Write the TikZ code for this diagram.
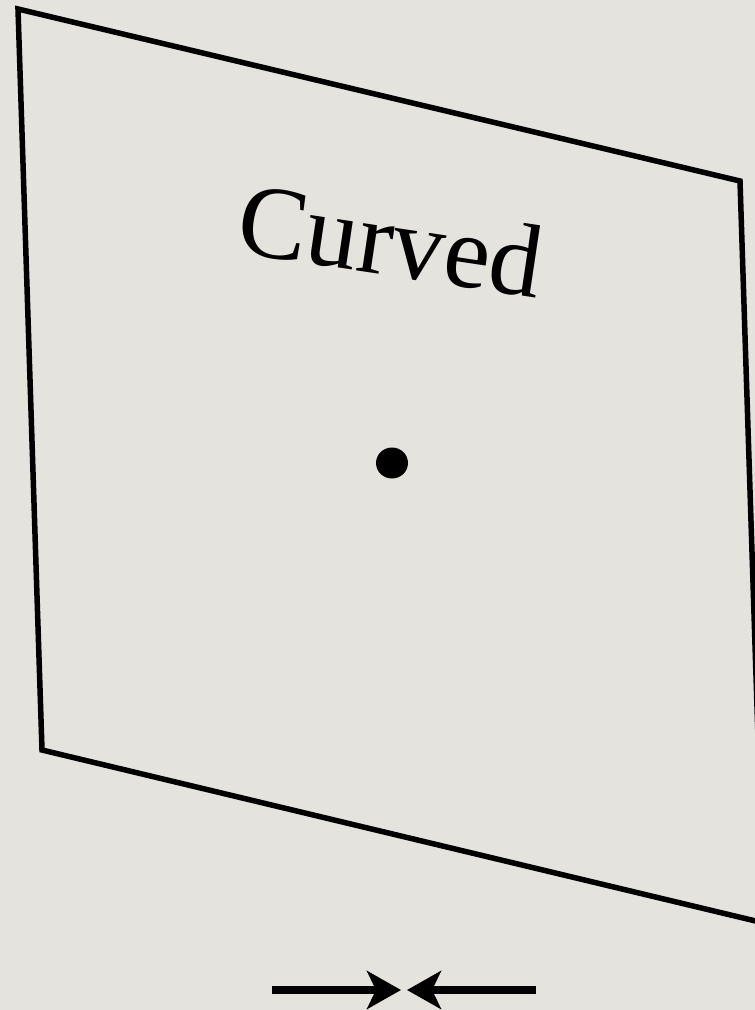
\documentclass[tikz,border=0pt]{standalone}
\usepackage{fontspec}
\setmainfont{Liberation Serif}
\usetikzlibrary{arrows.meta}
\definecolor{paper}{RGB}{229,227,222}

\begin{document}
\begin{tikzpicture}[x=1pt, y=-1pt, >={Stealth[length=34pt, width=38pt, inset=9pt]}]
	% 背景
	\useasboundingbox (0,0) rectangle (755,1010);
	\clip (0,0) rectangle (755,1010);
	\fill[paper] (0,0) rectangle (755,1010);
	
	% 平面（平行四边形）
	\coordinate (TL) at (18,9);
	\coordinate (TR) at (740,181);
	\coordinate (BR) at (764,923);
	\coordinate (BL) at (42,750);
	\draw[line width=5.5pt, line join=miter] (TL) -- (TR) -- (BR) -- (BL) -- cycle;
	
	% 标签
	\node[rotate=-8.5, font=\fontsize{104}{104}\selectfont, inner sep=0pt] (label) at (391,240) {Curved};
	
	% 中心点
	\coordinate (P) at (392,463);
	\fill (P) ellipse (16pt and 15.5pt);
	
	% 压缩箭头
	\coordinate (L) at (272,990);
	\coordinate (R) at (536,990);
	\coordinate (ML) at (401,990);
	\coordinate (MR) at (407,990);
	\draw[->, line width=8pt] (L) -- (ML);
	\draw[->, line width=8pt] (R) -- (MR);
\end{tikzpicture}
\end{document}
